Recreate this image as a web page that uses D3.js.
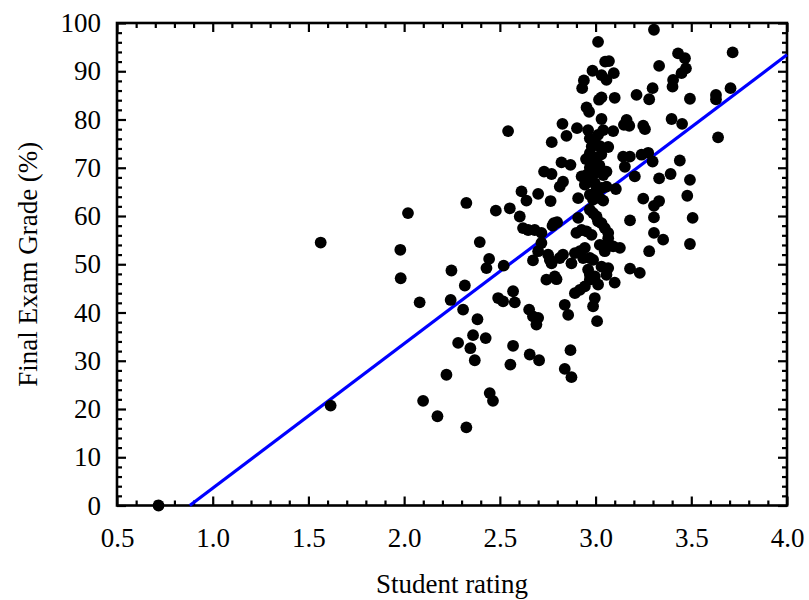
<!DOCTYPE html>
<html>
<head>
<meta charset="utf-8">
<script src="https://cdn.jsdelivr.net/npm/d3@7"></script>
<style>
  html, body { margin: 0; padding: 0; background: #fff; }
  svg { display: block; }
  text { font-family: "Liberation Serif", "DejaVu Serif", serif; fill: #000; }
</style>
</head>
<body>
<svg id="chart" width="809" height="600"></svg>
<script>
// ---- data ----
const rating = [
  0.717, 1.564, 1.616, 1.98, 1.982, 2.02, 2.081, 2.099, 2.174, 2.221,
  2.243, 2.247, 2.282, 2.308, 2.317, 2.325, 2.325, 2.346, 2.36, 2.369,
  2.383, 2.395, 2.426, 2.43, 2.444, 2.447, 2.464, 2.479, 2.491, 2.517,
  2.52, 2.543, 2.552, 2.555, 2.569, 2.569, 2.578, 2.604, 2.613, 2.621,
  2.639, 2.648, 2.653, 2.656, 2.673, 2.673, 2.682, 2.691, 2.7, 2.7,
  2.7, 2.705, 2.717, 2.717, 2.731, 2.743, 2.752, 2.761, 2.765, 2.77,
  2.77, 2.771, 2.775, 2.782, 2.787, 2.796, 2.799, 2.813, 2.813, 2.822,
  2.827, 2.83, 2.83, 2.839, 2.839, 2.848, 2.857, 2.869, 2.869, 2.874,
  2.874, 2.892, 2.892, 2.9, 2.903, 2.909, 2.909, 2.918, 2.918, 2.927,
  2.927, 2.93, 2.935, 2.939, 2.944, 2.944, 2.944, 2.953, 2.953, 2.953,
  2.961, 2.961, 2.966, 2.97, 2.97, 2.97, 2.97, 2.97, 2.97, 2.97,
  2.97, 2.97, 2.979, 2.984, 2.987, 2.987, 2.987, 2.987, 2.99, 2.996,
  2.996, 2.996, 2.996, 2.98, 2.95, 3.0, 3.0, 3.005, 3.005, 3.008,
  3.013, 3.013, 3.013, 3.013, 3.018, 3.02, 3.022, 3.022, 3.022, 3.031,
  3.031, 3.031, 3.031, 3.031, 3.031, 3.03, 3.04, 3.04, 3.04, 3.048,
  3.048, 3.05, 3.057, 3.057, 3.057, 3.057, 3.057, 3.066, 3.066, 3.066,
  3.066, 3.07, 3.092, 3.092, 3.095, 3.1, 3.1, 3.106, 3.127, 3.144,
  3.148, 3.153, 3.162, 3.18, 3.18, 3.176, 3.179, 3.205, 3.214, 3.24,
  3.231, 3.249, 3.258, 3.249, 3.275, 3.28, 3.28, 3.298, 3.298, 3.305,
  3.305, 3.305, 3.305, 3.332, 3.332, 3.332, 3.353, 3.392, 3.397, 3.402,
  3.405, 3.431, 3.44, 3.449, 3.452, 3.467, 3.472, 3.479, 3.493, 3.493,
  3.493, 3.507, 3.629, 3.629, 3.64, 3.705, 3.716
];
const grade = [
  0, 54.5, 20.7, 53.0, 47.1, 60.6, 42.1, 21.7, 18.5, 27.1,
  42.6, 48.7, 33.7, 40.6, 45.6, 62.7, 16.2, 32.6, 35.3, 30.1,
  38.6, 54.6, 34.7, 49.2, 51.1, 23.3, 21.7, 61.1, 43.0, 42.3,
  49.7, 77.6, 61.6, 29.2, 33.1, 44.4, 42.1, 59.9, 65.1, 57.5,
  63.2, 57.1, 40.6, 31.3, 39.2, 50.8, 57.1, 37.5, 38.9, 64.6,
  52.7, 30.1, 56.5, 54.4, 69.2, 46.8, 52.0, 50.9, 63.1, 68.7,
  50.2, 75.3, 58.0, 58.5, 47.5, 46.9, 58.7, 66.1, 51.3, 71.1,
  79.1, 67.1, 52.0, 41.6, 28.3, 76.6, 39.5, 70.6, 32.2, 50.2,
  26.6, 52.3, 44.0, 56.5, 78.2, 63.7, 59.6, 52.7, 44.7, 57.1,
  68.2, 86.5, 51.3, 88.1, 66.5, 53.4, 45.4, 82.5, 56.8, 68.5,
  77.8, 48.9, 81.6, 76.1, 67.1, 64.4, 61.3, 51.3, 47.8, 46.8,
  73.0, 70.0, 56.1, 90.1, 63.4, 60.6, 50.9, 41.3, 72.2, 75.4,
  66.8, 47.5, 43.0, 74.4, 71.8, 71.3, 69.0, 65.4, 59.9, 38.2,
  96.1, 76.8, 58.9, 45.8, 84.1, 70.5, 74.5, 63.7, 54.0, 89.2,
  84.6, 80.1, 65.8, 58.5, 49.5, 72.8, 77.8, 63.2, 68.5, 57.5,
  52.7, 92.0, 88.2, 69.2, 66.1, 54.0, 47.8, 74.3, 56.5, 55.4,
  49.2, 92.1, 77.6, 53.7, 89.6, 84.5, 46.2, 65.6, 53.4, 72.3,
  78.9, 70.2, 79.9, 59.1, 49.1, 78.7, 72.3, 68.2, 85.1, 72.7,
  48.2, 78.7, 78.0, 63.6, 73.1, 84.2, 52.7, 86.5, 71.3, 98.6,
  62.1, 59.7, 56.5, 91.1, 67.8, 63.1, 55.1, 68.7, 80.1, 86.8,
  88.2, 93.7, 71.5, 89.6, 79.1, 92.7, 90.6, 64.2, 84.3, 67.5,
  54.2, 59.6, 85.1, 84.2, 76.3, 86.5, 93.9
];
// fitted line endpoints
const fitX = [0.88, 4.0];
const fitY = [0, 93.4];

const xTicks = [0.5, 1.0, 1.5, 2.0, 2.5, 3.0, 3.5, 4.0];
const yTicks = [0, 10, 20, 30, 40, 50, 60, 70, 80, 90, 100];
const xTitle = "Student rating";
const yTitle = "Final Exam Grade (%)";

// ---- layout ----
const L = 117, R = 787, T = 23, B = 505.5;
const svg = d3.select("#chart");
const x = d3.scaleLinear().domain([0.5, 4.0]).range([L, R]);
const y = d3.scaleLinear().domain([0, 100]).range([B, T]);

const xMinor = d3.range(5, 41).map(d => d / 10).filter(v => !xTicks.some(t => Math.abs(t - v) < 1e-9));
const yMinor = d3.range(0, 101, 2).filter(v => v % 10 !== 0);

const fmtX = d3.format(".1f");
const fontSize = 27;

function styleAxis(g) {
  g.select(".domain").remove();
  g.selectAll(".tick line").attr("stroke", "#000").attr("stroke-width", 2.2);
  g.selectAll("text").style("font-size", fontSize + "px").style("font-family", '"Liberation Serif", serif');
}

// bottom
svg.append("g").attr("transform", `translate(0,${B})`)
  .call(d3.axisBottom(x).tickValues(xTicks).tickFormat(fmtX).tickSize(-9).tickPadding(22))
  .call(styleAxis);
svg.append("g").attr("transform", `translate(0,${B})`)
  .call(d3.axisBottom(x).tickValues(xMinor).tickFormat("").tickSize(-5))
  .call(styleAxis);
// top
svg.append("g").attr("transform", `translate(0,${T})`)
  .call(d3.axisTop(x).tickValues(xTicks).tickFormat("").tickSize(-9))
  .call(styleAxis);
svg.append("g").attr("transform", `translate(0,${T})`)
  .call(d3.axisTop(x).tickValues(xMinor).tickFormat("").tickSize(-5))
  .call(styleAxis);
// left
svg.append("g").attr("transform", `translate(${L},0)`)
  .call(d3.axisLeft(y).tickValues(yTicks).tickFormat(d3.format("d")).tickSize(-9).tickPadding(16))
  .call(styleAxis);
svg.append("g").attr("transform", `translate(${L},0)`)
  .call(d3.axisLeft(y).tickValues(yMinor).tickFormat("").tickSize(-5))
  .call(styleAxis);
// right
svg.append("g").attr("transform", `translate(${R},0)`)
  .call(d3.axisRight(y).tickValues(yTicks).tickFormat("").tickSize(-9))
  .call(styleAxis);
svg.append("g").attr("transform", `translate(${R},0)`)
  .call(d3.axisRight(y).tickValues(yMinor).tickFormat("").tickSize(-5))
  .call(styleAxis);

// frame
svg.append("rect")
  .attr("x", L).attr("y", T).attr("width", R - L).attr("height", B - T)
  .attr("fill", "none").attr("stroke", "#000").attr("stroke-width", 2.6);

// fit line
svg.append("line")
  .attr("x1", x(fitX[0])).attr("y1", y(fitY[0]))
  .attr("x2", x(fitX[1])).attr("y2", y(fitY[1]))
  .attr("stroke", "#0000ff").attr("stroke-width", 3.2);

// points
const pts = rating.map((r, i) => ({ r, g: grade[i] }));
svg.append("g").selectAll("circle").data(pts).join("circle")
  .attr("cx", d => x(d.r)).attr("cy", d => y(d.g)).attr("r", 5.9)
  .attr("fill", "#000");

// titles
svg.append("text")
  .attr("x", (L + R) / 2).attr("y", 593)
  .attr("text-anchor", "middle").style("font-size", fontSize + "px")
  .text(xTitle);
svg.append("text")
  .attr("transform", `translate(37,${(T + B) / 2}) rotate(-90)`)
  .attr("text-anchor", "middle").style("font-size", fontSize + "px")
  .text(yTitle);
</script>
</body>
</html>
